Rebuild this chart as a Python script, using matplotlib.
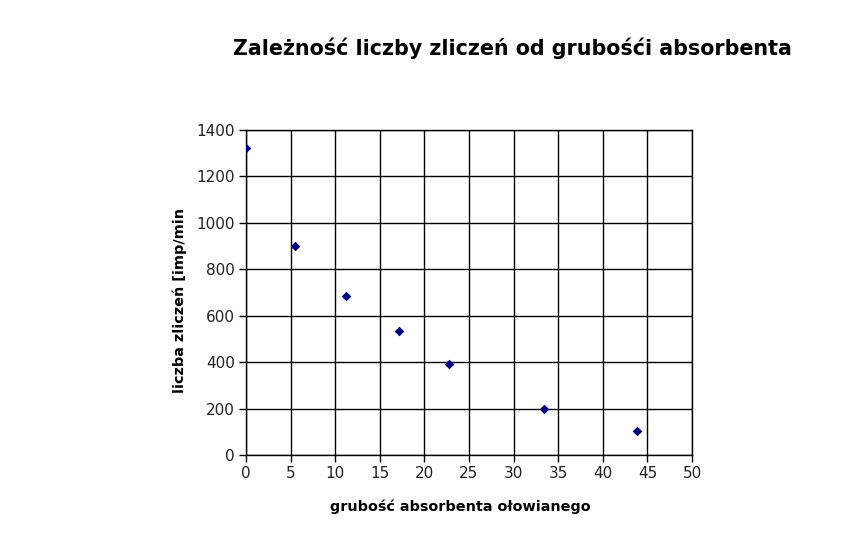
import matplotlib
matplotlib.use('Agg')
import matplotlib.pyplot as plt

# grubość absorbenta vs liczba zliczeń
thickness = [0.0, 5.5, 11.2, 17.2, 22.8, 33.4, 43.8]
counts = [1322, 900, 687, 536, 394, 198, 103]

plt.rcParams['font.family'] = 'DejaVu Sans'

fig = plt.figure(figsize=(8.66, 5.48), dpi=100)
ax = fig.add_axes([246 / 866, 1 - 455 / 548, 446 / 866, 325 / 548])

ax.scatter(thickness, counts, marker='D', s=24, color='#000080', zorder=3,
           linewidths=0)

ax.set_xlim(0, 50)
ax.set_ylim(0, 1400)
ax.set_xticks(range(0, 51, 5))
ax.set_yticks(range(0, 1401, 200))
ax.grid(True, color='black', linewidth=1)
ax.set_axisbelow(True)
for s in ax.spines.values():
    s.set_color('black')
    s.set_linewidth(1)
ax.tick_params(direction='out', length=5, width=1, labelsize=11, pad=3,
               labelcolor='#222222')

ax.set_xlabel('grubość absorbenta ołowianego', fontsize=10.4, fontweight='bold',
              labelpad=13)
ax.set_ylabel('liczba zliczeń [imp/min', fontsize=10.4, fontweight='bold',
              labelpad=7)
ax.xaxis.label.set_x(0.48)
ax.yaxis.label.set_y(0.474)
fig.text(512 / 866, 1 - 48 / 548, 'Zależność liczby zliczeń od grubośći absorbenta',
         fontsize=14.85, fontweight='bold', ha='center', va='center')

fig.savefig('out.png', dpi=100, facecolor='white')
